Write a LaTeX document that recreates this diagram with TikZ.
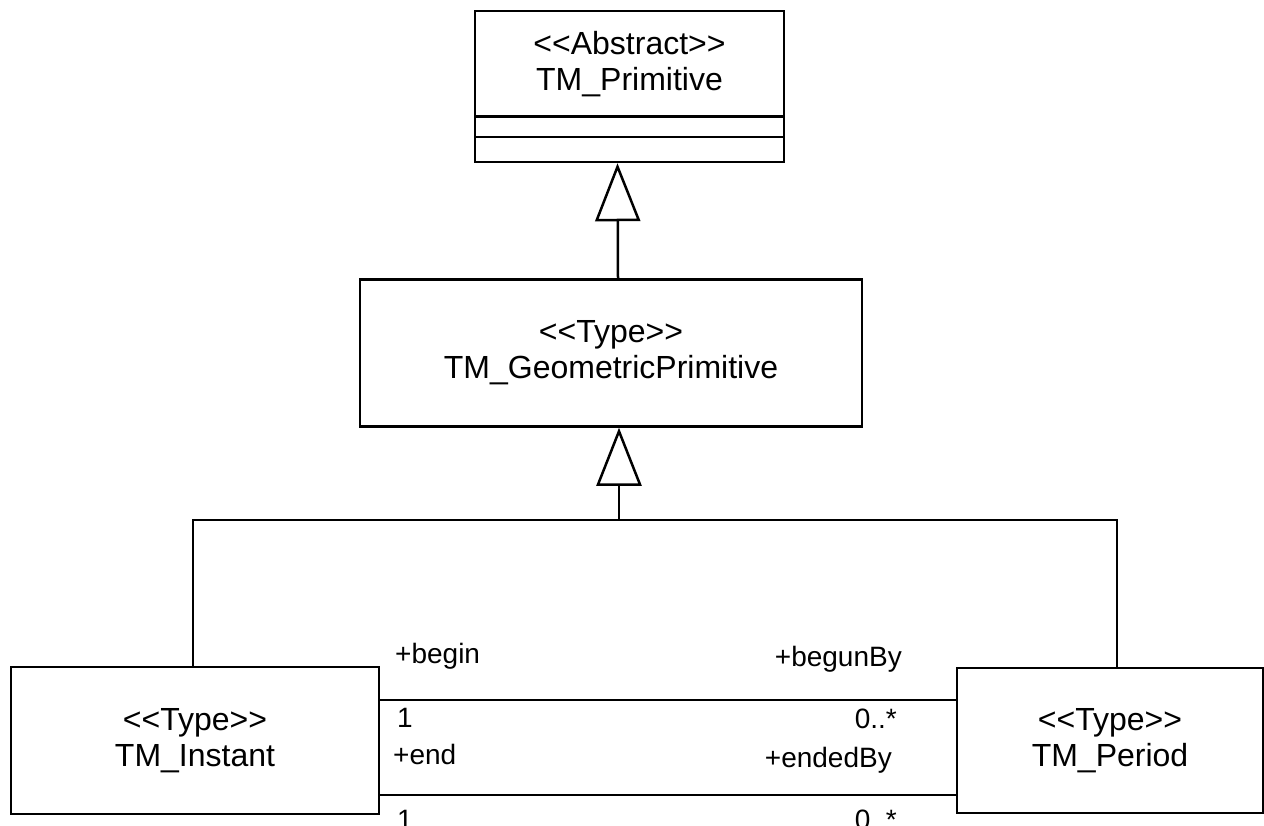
\documentclass[tikz,border=0pt]{standalone}
\usepackage{fontspec}
\setmainfont[Ligatures=TeXOff]{Liberation Sans}
\usetikzlibrary{arrows.meta}
\begin{document}
\begin{tikzpicture}[x=1pt,y=-1pt,
  cls/.style={draw, line width=2.5pt, inner sep=0pt, align=center,
    font=\fontsize{32}{36}\selectfont},
  lbl/.style={inner sep=0pt, font=\fontsize{28}{30}\selectfont},
  gen/.style={line width=2.5pt,
    -{Triangle[open,length=58pt,width=45pt,line width=2.5pt]}},
  assoc/.style={line width=2.5pt}]
\useasboundingbox (0,0) rectangle (1264,826);
\clip (0,0) rectangle (1264,826);
% classes
\node[cls, minimum width=309pt, minimum height=106pt] (top) at (629.5,64)
  {<<Abstract>>\\TM\_Primitive};
\node[cls, minimum width=309pt, minimum height=21pt] (topattr) at (629.5,126.5) {};
\node[cls, minimum width=309pt, minimum height=25pt] (topop) at (629.5,149.5) {};
\node[cls, minimum width=502pt, minimum height=147pt] (mid) at (611,353)
  {<<Type>>\\TM\_GeometricPrimitive};
\node[cls, minimum width=368pt, minimum height=147pt] (inst) at (195,740.5)
  {<<Type>>\\TM\_Instant};
\node[cls, minimum width=306pt, minimum height=145pt] (per) at (1110,740.5)
  {<<Type>>\\TM\_Period};
% generalizations
\draw[gen] ([xshift=7pt]mid.north) -- ([xshift=-12pt]topop.south);
\coordinate (j) at (619,520);
\draw[gen] (j) -- (j |- mid.south);
\draw[assoc] ([xshift=-2pt]inst.north) |- (j) -| ([xshift=7pt]per.north);
% associations
\coordinate (y1) at (0,700);
\coordinate (y2) at (0,795);
\draw[assoc] (inst.east |- y1) -- (per.west |- y1);
\draw[assoc] (inst.east |- y2) -- (per.west |- y2);
% role labels
\node[lbl, anchor=base west] (lbegin) at (395,663) {+begin};
\node[lbl, anchor=base west] (m1) at (397,727) {1};
\node[lbl, anchor=base west] (lend) at (393,764) {+end};
\node[lbl, anchor=base west] (m2) at (397,829) {1};
\node[lbl, anchor=base east] (lbegunby) at (902,666) {+begunBy};
\node[lbl, anchor=base east] (m3) at (897,728) {0..*};
\node[lbl, anchor=base east] (lendedby) at (892,767) {+endedBy};
\node[lbl, anchor=base east] (m4) at (897,829) {0..*};
\end{tikzpicture}
\end{document}
